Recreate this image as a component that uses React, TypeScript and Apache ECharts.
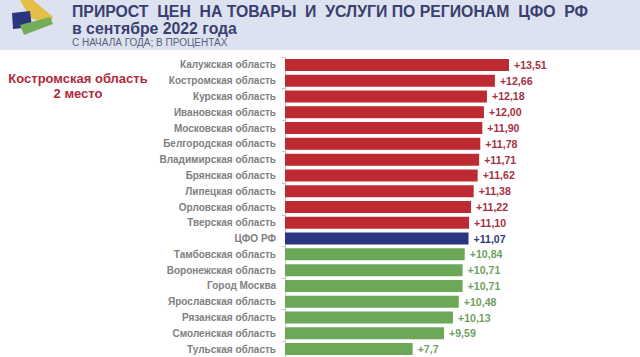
import React, { useEffect, useRef } from "react";
import * as echarts from "echarts";

const regions = ["Калужская область","Костромская область","Курская область","Ивановская область","Московская область","Белгородская область","Владимирская область","Брянская область","Липецкая область","Орловская область","Тверская область","ЦФО РФ","Тамбовская область","Воронежская область","Город Москва","Ярославская область","Рязанская область","Смоленская область","Тульская область"];
const values = [13.51,12.66,12.18,12.0,11.9,11.78,11.71,11.62,11.38,11.22,11.1,11.07,10.84,10.71,10.71,10.48,10.13,9.59,7.7];
const valueLabels = ["+13,51","+12,66","+12,18","+12,00","+11,90","+11,78","+11,71","+11,62","+11,38","+11,22","+11,10","+11,07","+10,84","+10,71","+10,71","+10,48","+10,13","+9,59","+7,7"];
const barColors = ["#bd2a32","#bd2a32","#bd2a32","#bd2a32","#bd2a32","#bd2a32","#bd2a32","#bd2a32","#bd2a32","#bd2a32","#bd2a32","#2b3580","#6da858","#6da858","#6da858","#6da858","#6da858","#6da858","#6da858"];
const labelColors = ["#a5323f","#a5323f","#a5323f","#a5323f","#a5323f","#a5323f","#a5323f","#a5323f","#a5323f","#a5323f","#a5323f","#2e3a78","#6f9f62","#6f9f62","#6f9f62","#6f9f62","#6f9f62","#6f9f62","#6f9f62"];

const FONT = "Liberation Sans";

export default function App() {
  const ref = useRef<HTMLDivElement>(null);
  useEffect(() => {
    const chart = echarts.init(ref.current!, null, { renderer: "svg" });
    chart.setOption({
      animation: false,
      backgroundColor: "#ffffff",
      grid: { left: 285, top: 57, width: 331.6, height: 300, containLabel: false },
      xAxis: { type: "value", min: 0, max: 20, show: false },
      yAxis: {
        type: "category",
        inverse: true,
        data: regions,
        axisLine: { show: true, lineStyle: { color: "#c8c8c8", width: 1 } },
        axisTick: { show: true, interval: 1, length: 3, lineStyle: { color: "#c8c8c8" } },
        axisLabel: { interval: 0, color: "#808080", fontFamily: FONT, fontSize: 10, fontWeight: "bold", margin: 9 },
      },
      series: [{
        type: "bar",
        barWidth: 12,
        data: values.map((v, i) => ({
          value: v,
          itemStyle: { color: barColors[i] },
          label: { color: labelColors[i], formatter: valueLabels[i] },
        })),
        label: { show: true, position: "right", distance: 5, fontFamily: FONT, fontSize: 10.6, fontWeight: "bold" },
      }],
      graphic: [
        { type: "rect", z: 0, shape: { x: 0, y: 0, width: 640, height: 50 }, style: { fill: "#dde2f0" } },
        { type: "polygon", z: 1, shape: { points: [[20, 0], [33, 0], [53, 17], [50, 24], [30, 18]] }, style: { fill: "#e3bf47" } },
        { type: "polygon", z: 2, shape: { points: [[12, 13], [30, 11], [32, 27], [13, 29]] }, style: { fill: "#2b3580" } },
        { type: "polygon", z: 3, shape: { points: [[20, 25], [50, 17], [53, 24], [24, 35]] }, style: { fill: "#74ad57" } },
        { type: "text", z: 4, x: 72, y: 3, style: { text: "ПРИРОСТ  ЦЕН  НА ТОВАРЫ  И  УСЛУГИ ПО РЕГИОНАМ  ЦФО  РФ", fill: "#39406f", font: "bold 15.8px 'Liberation Sans'" } },
        { type: "text", z: 4, x: 72, y: 20, style: { text: "в сентябре 2022 года", fill: "#39406f", font: "bold 15.8px 'Liberation Sans'" } },
        { type: "text", z: 4, x: 72, y: 37, style: { text: "С НАЧАЛА ГОДА; В ПРОЦЕНТАХ", fill: "#5a5f78", font: "10px 'Liberation Sans'" } },
        { type: "text", z: 4, x: 78, y: 72, style: { text: "Костромская область", fill: "#b02a3a", align: "center", font: "bold 13px 'Liberation Sans'" } },
        { type: "text", z: 4, x: 78, y: 87, style: { text: "2 место", fill: "#b02a3a", align: "center", font: "bold 13px 'Liberation Sans'" } },
      ],
    });
    return () => chart.dispose();
  }, []);
  return <div ref={ref} style={{ position: "fixed", left: 0, top: 0, width: 640, height: 357 }} />;
}
